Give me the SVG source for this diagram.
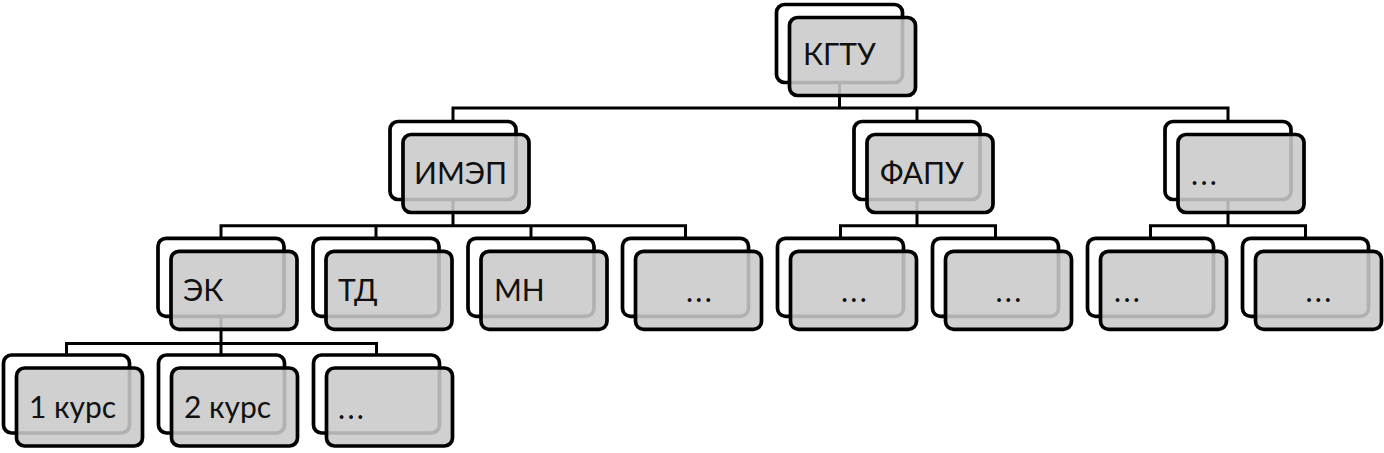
<svg xmlns="http://www.w3.org/2000/svg" width="1384" height="453" viewBox="0 0 1384 453">
<style>
.back{fill:#fff;stroke:#000;stroke-width:3.7}
.front{fill:#c9c9c9;fill-opacity:0.88;stroke:#000;stroke-width:3.7}
.t{font-family:Lato,"Open Sans","Liberation Sans",sans-serif;font-size:30px;fill:#111}
.d{letter-spacing:2.3px}
.c{text-anchor:middle}
.conn{fill:none;stroke:#000;stroke-width:3;stroke-linejoin:miter}
</style>
<rect width="1384" height="453" fill="#fff"/>
<g id="connectors">
<path class="conn" d="M839.5 82.5 V108 M453 121.5 V108 H1228 V121.5 M917 108 V121.5"/>
<path class="conn" d="M453 199.5 V225.8 M221 238.3 V225.8 H685.5 V238.3 M376 225.8 V238.3 M531 225.8 V238.3"/>
<path class="conn" d="M917 199.5 V225.8 M840.5 238.3 V225.8 H995.5 V238.3"/>
<path class="conn" d="M1228 199.5 V225.8 M1150.5 238.3 V225.8 H1305.5 V238.3"/>
<path class="conn" d="M221 316.3 V343.5 M66.5 355 V343.5 H376.5 V355 M221 343.5 V355"/>
</g>
<g id="n-kgtu">
<rect class="back" x="776.5" y="4.5" width="126" height="78" rx="8"/>
<rect class="front" x="789.5" y="17.5" width="126" height="78" rx="8"/>
<text class="t" x="803" y="65">КГТУ</text>
</g>
<g id="n-imep">
<rect class="back" x="390" y="121.5" width="126" height="78" rx="8"/>
<rect class="front" x="403" y="134.5" width="126" height="78" rx="8"/>
<text class="t" x="414" y="183.5">ИМЭП</text>
</g>
<g id="n-fapu">
<rect class="back" x="854" y="121.5" width="126" height="78" rx="8"/>
<rect class="front" x="867" y="134.5" width="126" height="78" rx="8"/>
<text class="t" x="880" y="183.5">ФАПУ</text>
</g>
<g id="n-other1">
<rect class="back" x="1165" y="121.5" width="126" height="78" rx="8"/>
<rect class="front" x="1178" y="134.5" width="126" height="78" rx="8"/>
<text class="t d" x="1191" y="184.5">...</text>
</g>
<g id="n-ek">
<rect class="back" x="158" y="238.3" width="126" height="78" rx="8"/>
<rect class="front" x="171" y="251.3" width="126" height="78" rx="8"/>
<text class="t" x="183" y="300.5">ЭК</text>
</g>
<g id="n-td">
<rect class="back" x="313" y="238.3" width="126" height="78" rx="8"/>
<rect class="front" x="326" y="251.3" width="126" height="78" rx="8"/>
<text class="t" x="338" y="300.5">ТД</text>
</g>
<g id="n-mn">
<rect class="back" x="468" y="238.3" width="126" height="78" rx="8"/>
<rect class="front" x="481" y="251.3" width="126" height="78" rx="8"/>
<text class="t" x="494" y="300.5">МН</text>
</g>
<g id="n-imep-other">
<rect class="back" x="622.5" y="238.3" width="126" height="78" rx="8"/>
<rect class="front" x="635.5" y="251.3" width="126" height="78" rx="8"/>
<text class="t c d" x="700" y="301.5">...</text>
</g>
<g id="n-fapu-1">
<rect class="back" x="777.5" y="238.3" width="126" height="78" rx="8"/>
<rect class="front" x="790.5" y="251.3" width="126" height="78" rx="8"/>
<text class="t c d" x="855" y="301.5">...</text>
</g>
<g id="n-fapu-2">
<rect class="back" x="932.5" y="238.3" width="126" height="78" rx="8"/>
<rect class="front" x="945.5" y="251.3" width="126" height="78" rx="8"/>
<text class="t c d" x="1009.5" y="301.5">...</text>
</g>
<g id="n-other1-1">
<rect class="back" x="1087.5" y="238.3" width="126" height="78" rx="8"/>
<rect class="front" x="1100.5" y="251.3" width="126" height="78" rx="8"/>
<text class="t d" x="1114" y="301.5">...</text>
</g>
<g id="n-other1-2">
<rect class="back" x="1242.5" y="238.3" width="126" height="78" rx="8"/>
<rect class="front" x="1255.5" y="251.3" width="126" height="78" rx="8"/>
<text class="t c d" x="1319.5" y="301.5">...</text>
</g>
<g id="n-kurs1">
<rect class="back" x="3.5" y="355" width="126" height="78" rx="8"/>
<rect class="front" x="16.5" y="368" width="126" height="78" rx="8"/>
<text class="t" x="29" y="418">1 курс</text>
</g>
<g id="n-kurs2">
<rect class="back" x="158.5" y="355" width="126" height="78" rx="8"/>
<rect class="front" x="171.5" y="368" width="126" height="78" rx="8"/>
<text class="t" x="184" y="418">2 курс</text>
</g>
<g id="n-ek-other">
<rect class="back" x="313.5" y="355" width="126" height="78" rx="8"/>
<rect class="front" x="326.5" y="368" width="126" height="78" rx="8"/>
<text class="t d" x="338" y="419">...</text>
</g>
</svg>
